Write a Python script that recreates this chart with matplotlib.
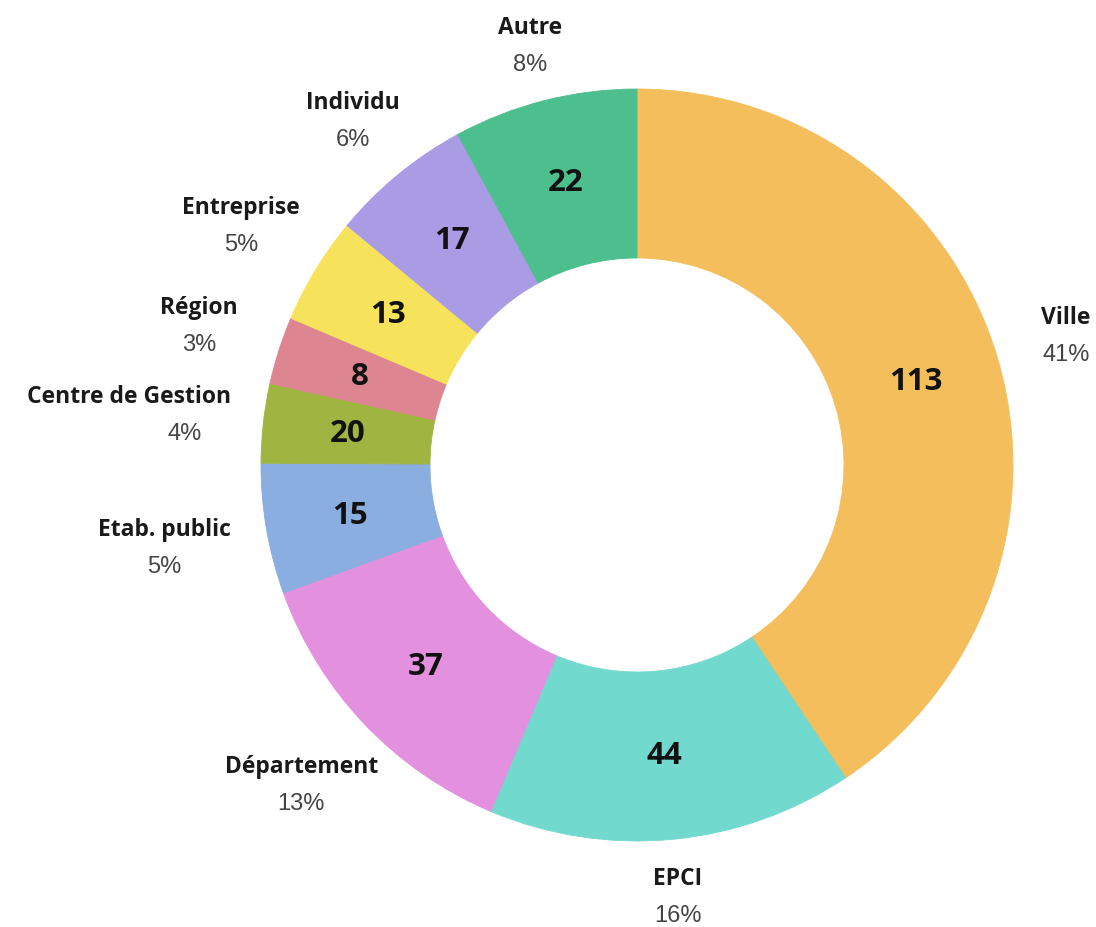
import numpy as np
import matplotlib
matplotlib.use("Agg")
import matplotlib.pyplot as plt

# data
categories = ["Ville", "EPCI", "Département", "Etab. public", "Centre de Gestion",
              "Région", "Entreprise", "Individu", "Autre"]
counts = [113, 44, 37, 15, 20, 8, 13, 17, 22]
pct_labels = ["41%", "16%", "13%", "5%", "4%", "3%", "5%", "6%", "8%"]
# slice sizes (% of ring) as drawn
shares = [40.6, 15.7, 13.1, 5.6, 3.4, 2.9, 4.6, 6.1, 7.9]

colors = ["#F5BE5C", "#72D9CF", "#E390DF", "#8AAEDF", "#A0B541",
          "#DD8591", "#F7E35B", "#A99BE4", "#4DBE8E"]

# label layout: distance of outer label from centre (px) and name x-shift
label_r = [448, 433, 463, 480, 455, 460, 463, 447, 433]
name_dx = [0, 0, 0, 0, -56, 0, 0, 0, 0]

W, H = 1096, 928
cx, cy = 637, H - 466
R_out, R_in = 376, 207

fig = plt.figure(figsize=(W / 100, H / 100), dpi=100)
ax = fig.add_axes([0, 0, 1, 1])

wedges, _ = ax.pie(shares, colors=colors, startangle=90, counterclock=False,
                   center=(cx, cy), radius=R_out,
                   wedgeprops=dict(width=R_out - R_in, linewidth=0.6))
for w, c in zip(wedges, colors):
    w.set_edgecolor(c)
ax.set_xlim(0, W)
ax.set_ylim(0, H)
ax.set_aspect("equal")
ax.axis("off")

r_mid = (R_out + R_in) / 2
for i, w in enumerate(wedges):
    ang = np.deg2rad((w.theta1 + w.theta2) / 2)
    # count inside the ring
    ax.text(cx + r_mid * np.cos(ang), cy + r_mid * np.sin(ang), str(counts[i]),
            ha="center", va="center", fontsize=22.5, fontweight="bold",
            family="Open Sans", color="#111111")
    # outside label
    lx = cx + label_r[i] * np.cos(ang)
    ly = cy + label_r[i] * np.sin(ang)
    ax.text(lx + name_dx[i], ly + 18, categories[i], ha="center", va="center",
            fontsize=16.5, fontweight="bold", family="Open Sans", color="#1a1a1a")
    ax.text(lx, ly - 19, pct_labels[i], ha="center", va="center",
            fontsize=17, family="Liberation Sans", color="#444444")

fig.savefig("out.png", dpi=100)
